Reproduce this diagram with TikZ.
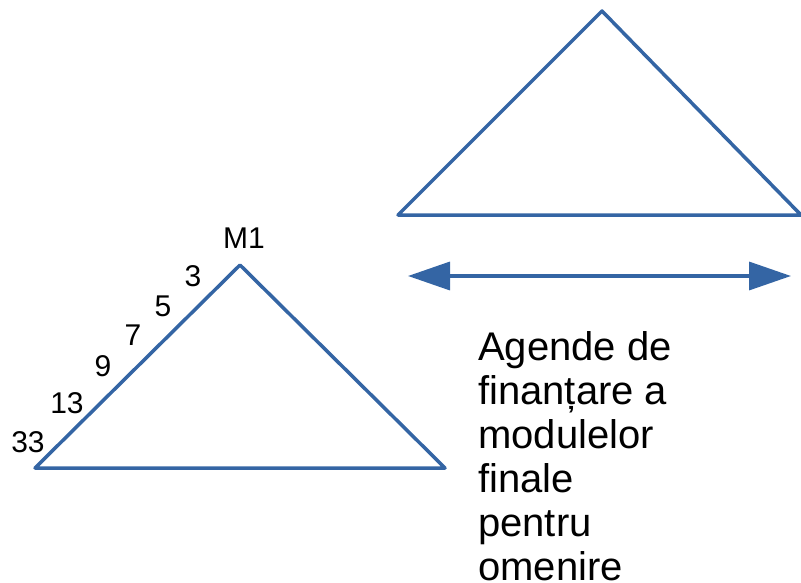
\documentclass[tikz,border=0pt]{standalone}
\usepackage{fontspec}
\setmainfont{Liberation Sans}
\usetikzlibrary{arrows.meta,positioning}
\definecolor{lineblue}{HTML}{3465A4}

\begin{document}
\begin{tikzpicture}[x=1pt, y=-1pt,
        edge/.style={draw=lineblue, line width=3.5pt, line join=round},
        num/.style={inner sep=0pt, font=\fontsize{30}{34}\selectfont},
        note/.style={inner sep=0pt, align=left, anchor=north west, font=\fontsize{40}{44}\selectfont}]

        \useasboundingbox (0,0) rectangle (801,583);

        % left triangle
        \coordinate (lbl) at (35,468);
        \coordinate (ltop) at (240,265);
        \coordinate (lbr) at (445,468);
        \draw[edge] (lbl) -- (ltop) -- (lbr) -- cycle;

        % right triangle
        \coordinate (rbl) at (398,215);
        \coordinate (rtop) at (602,11);
        \coordinate (rbr) at (801,215);
        \draw[edge] (rbl) -- (rtop) -- (rbr) -- cycle;

        % double arrow
        \coordinate (aleft) at (408,276);
        \coordinate (aright) at (791,276);
        \draw[edge, {Triangle[length=42pt,width=28pt]}-{Triangle[length=42pt,width=28pt]}] (aleft) -- (aright);

        % labels along the edge
        \node[num] (m1) at (244,238) {M1};
        \node[num] (n3) at (193,276) {3};
        \node[num] (n5) at (163,306) {5};
        \node[num] (n7) at (133,335) {7};
        \node[num] (n9) at (103,366) {9};
        \node[num] (n13) at (67,403) {13};
        \node[num] (n33) at (28,442) {33};

        \node[note] (agenda) at (478,331) {Agende de\\finanțare a\\modulelor\\finale\\pentru\\omenire};

    \end{tikzpicture}
\end{document}
